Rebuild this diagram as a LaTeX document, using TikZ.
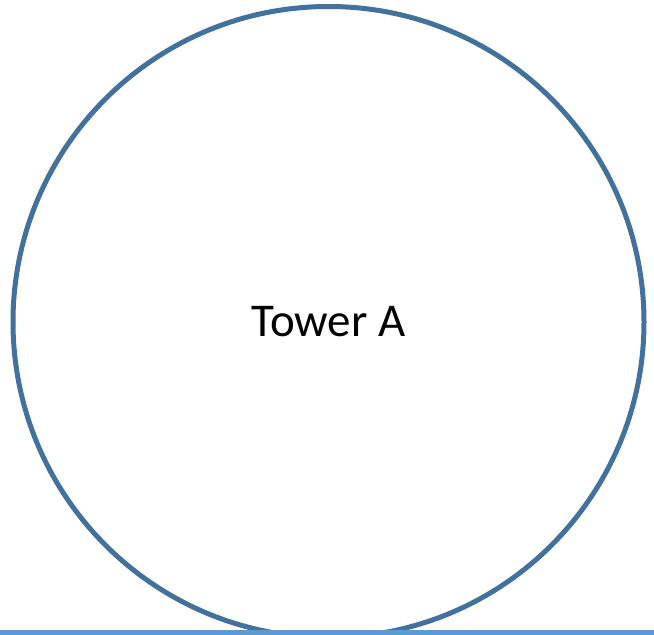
\documentclass[tikz,border=0pt]{standalone}
\usepackage{fontspec}
\setmainfont{Carlito}
\usepackage{xcolor}
\usetikzlibrary{positioning}
\definecolor{towerblue}{HTML}{41719C}
\definecolor{groundblue}{HTML}{5B9BD5}

\begin{document}
\begin{tikzpicture}[
    x=1pt, y=-1pt,
    tower/.style={circle, draw=towerblue, line width=5pt, minimum size=631pt, inner sep=0pt, font=\fontsize{47}{52}\selectfont},
    ground/.style={draw=groundblue, line width=5pt}
]
\useasboundingbox (0,0) rectangle (654,635);
\node[tower] (towerA) at (328.5,322) {Tower A};

\coordinate (groundL) at (0,632.5);
\coordinate (groundR) at (654,632.5);
\draw[ground] (groundL) -- (groundR);
\end{tikzpicture}
\end{document}
